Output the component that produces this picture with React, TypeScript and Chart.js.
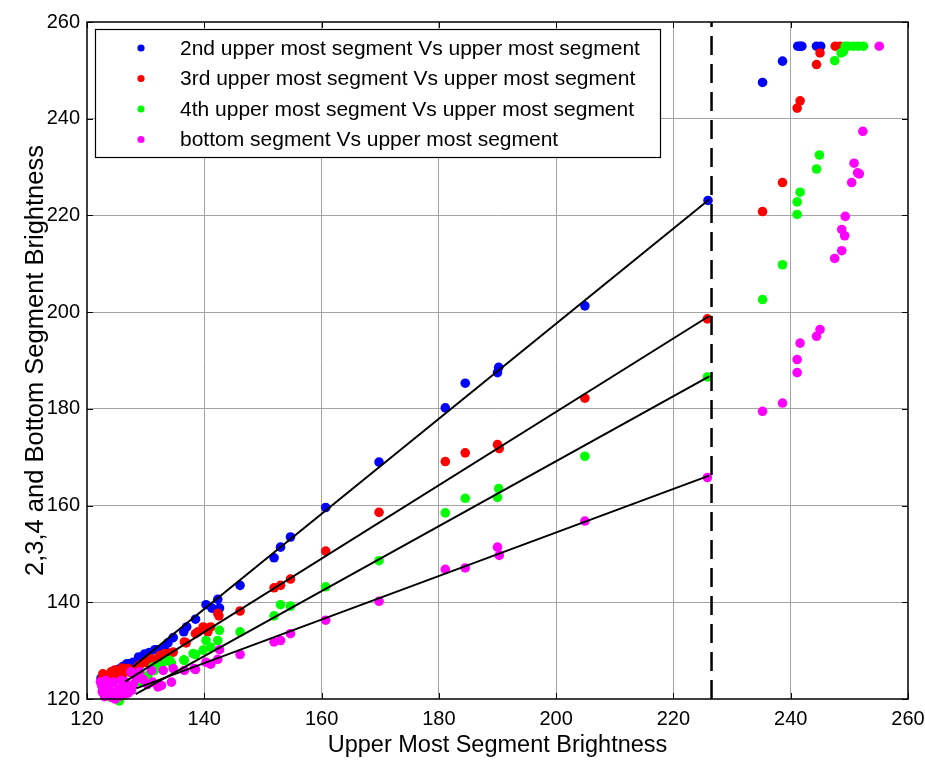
import { useEffect, useRef } from 'react';
import { Chart, registerables } from 'chart.js';

Chart.register(...registerables);

const FONT = '"Liberation Sans", Arial, Helvetica, sans-serif';

// Axis ticks
const xTicks = [120, 140, 160, 180, 200, 220, 240, 260];
const yTicks = [120, 140, 160, 180, 200, 220, 240, 260];

// Legend labels and colors
const seriesLabels = [
  '2nd upper most segment Vs upper most segment',
  '3rd upper most segment Vs upper most segment',
  '4th upper most segment Vs upper most segment',
  'bottom segment Vs upper most segment',
];
const seriesColors = ['#0000ff', '#ff0000', '#00ff00', '#ff00ff'];

// 2nd upper most segment (blue)
const blueX = [122.4, 123.2, 123.5, 124.7, 125.5, 126.1, 126.8, 127.3, 127.9, 128.8, 129.2, 129.8, 130.6, 131.6, 131.8, 132.6, 133.2, 133.8, 134.7, 136.5, 137.0, 138.5, 140.3, 141.3, 142.3, 142.6, 146.1, 151.9, 153.0, 154.7, 160.7, 169.8, 181.1, 184.5, 190.0, 190.2, 204.9, 225.9, 235.2, 238.6, 241.2, 241.6, 241.9, 244.4, 245.1];
const blueY = [124.3, 123.8, 124.8, 125.9, 126.2, 126.7, 127.3, 127.3, 127.6, 128.7, 128.6, 129.3, 129.6, 130.2, 130.2, 130.2, 130.6, 131.6, 132.7, 133.9, 134.9, 136.5, 139.5, 138.8, 140.6, 138.8, 143.5, 149.2, 151.4, 153.5, 159.6, 169.0, 180.2, 185.3, 187.5, 188.6, 201.3, 223.1, 247.5, 251.9, 255, 255, 255, 255, 255];

// 3rd upper most segment (red)
const redX = [122.5, 122.7, 123.0, 123.3, 123.8, 124.1, 124.5, 124.8, 125.0, 125.5, 126.0, 126.2, 127.0, 127.4, 127.8, 128.2, 128.7, 129.0, 129.8, 130.1, 131.0, 132.1, 132.4, 133.2, 134.2, 134.7, 136.6, 136.9, 138.5, 138.9, 139.8, 140.3, 140.6, 141.1, 142.3, 142.5, 146.1, 151.9, 153.0, 154.7, 160.7, 169.8, 181.1, 184.5, 190.0, 190.3, 204.9, 225.8, 235.2, 238.6, 241.1, 241.6, 244.4, 245.0, 247.6, 248.4];
const redY = [124.0, 125.2, 123.6, 124.6, 124.9, 125.6, 123.8, 126.0, 124.9, 125.8, 126.4, 125.3, 126.3, 125.5, 125.8, 126.2, 126.7, 127.0, 127.6, 127.6, 128.3, 128.3, 129.0, 129.4, 129.5, 129.7, 131.8, 131.6, 133.5, 133.9, 134.9, 134.6, 133.9, 134.9, 137.7, 137.2, 138.2, 143.0, 143.5, 144.8, 150.6, 158.6, 169.1, 170.9, 172.6, 171.8, 182.2, 198.6, 220.8, 226.8, 242.2, 243.7, 251.2, 253.6, 255, 255];

// 4th upper most segment (green)
const greenX = [122.6, 123.2, 124.0, 125.5, 125.8, 126.4, 127.5, 129.0, 130.4, 131.2, 131.5, 132.1, 132.7, 133.5, 134.1, 134.4, 136.5, 136.6, 138.1, 138.5, 139.8, 140.3, 141.1, 142.3, 142.6, 146.1, 151.9, 153.0, 154.7, 160.7, 169.8, 181.1, 184.5, 190.0, 190.2, 204.9, 225.8, 235.2, 238.6, 241.1, 241.1, 241.6, 244.4, 244.9, 247.5, 248.6, 249.0, 249.3, 249.8, 250.7, 251.5, 252.4];
const greenY = [122.5, 121.0, 120.4, 119.6, 120.5, 120.8, 122.3, 123.6, 124.9, 126.6, 125.9, 127.0, 126.6, 128.0, 128.0, 127.4, 128.1, 128.0, 129.4, 129.2, 130.1, 132.1, 130.7, 132.1, 134.2, 133.9, 137.2, 139.5, 139.2, 143.2, 148.6, 158.5, 161.5, 161.7, 163.5, 170.2, 186.6, 202.6, 209.8, 220.2, 222.8, 224.8, 229.6, 232.5, 252.0, 253.6, 253.9, 255, 255, 255, 255, 255];

// bottom segment (magenta)
const magentaX = [122.3, 122.5, 122.6, 123.0, 123.2, 123.5, 123.8, 124.0, 124.3, 124.5, 124.8, 125.0, 125.3, 125.6, 125.8, 126.0, 126.2, 126.5, 126.8, 127.0, 127.5, 127.6, 127.9, 128.4, 129.0, 129.6, 130.3, 131.0, 131.2, 132.1, 132.7, 133.0, 134.4, 134.7, 136.6, 138.3, 138.5, 140.3, 141.1, 142.3, 142.6, 146.1, 151.9, 153.0, 154.7, 160.7, 169.8, 181.1, 184.5, 190.0, 190.3, 204.9, 225.8, 235.2, 238.6, 241.1, 241.1, 241.6, 244.4, 245.0, 247.5, 248.7, 249.2, 248.7, 249.3, 250.4, 251.4, 251.7, 250.8, 252.3, 255.1];
const magentaY = [123.5, 122.8, 121.5, 120.5, 123.8, 122.5, 122.0, 121.0, 120.3, 123.5, 120.0, 121.5, 122.0, 120.6, 123.8, 122.4, 121.0, 123.6, 122.6, 121.2, 125.6, 121.8, 123.0, 124.2, 125.6, 124.0, 123.0, 125.9, 123.5, 122.5, 122.8, 125.9, 123.5, 126.3, 125.9, 126.3, 126.1, 127.6, 127.2, 128.2, 130.2, 129.2, 131.8, 132.1, 133.5, 136.3, 140.2, 146.8, 147.1, 151.4, 149.7, 156.8, 165.8, 179.5, 181.2, 187.5, 190.2, 193.6, 195.0, 196.4, 211.1, 212.7, 215.8, 217.1, 219.8, 226.8, 228.8, 228.6, 230.8, 237.4, 255];

// Fitted lines (start / end)
const fitX = [
  [127.8, 226.1],
  [126.5, 226.1],
  [128.3, 226.1],
  [128.4, 226.1],
];
const fitY = [
  [126.6, 223.3],
  [123.6, 199.2],
  [121.0, 186.7],
  [122.2, 166.2],
];

// Vertical dashed threshold
const thresholdX = 226.5;
const thresholdY = [120, 260];

const pts = (xs: number[], ys: number[]) => xs.map((x, i) => ({ x, y: ys[i] }));

const boxPlugin = {
  id: 'matlabBox',
  afterDatasetsDraw(chart: any) {
    const { ctx, chartArea } = chart;
    const { left, right, top, bottom } = chartArea;
    const xs = chart.scales.x;
    const ys = chart.scales.y;
    const tl = 6;
    ctx.save();
    ctx.strokeStyle = '#000';
    ctx.lineWidth = 1;
    ctx.beginPath();
    xTicks.forEach((v) => {
      const p = Math.round(xs.getPixelForValue(v)) + 0.5;
      ctx.moveTo(p, bottom);
      ctx.lineTo(p, bottom - tl);
      ctx.moveTo(p, top);
      ctx.lineTo(p, top + tl);
    });
    yTicks.forEach((v) => {
      const p = Math.round(ys.getPixelForValue(v)) + 0.5;
      ctx.moveTo(left, p);
      ctx.lineTo(left + tl, p);
      ctx.moveTo(right, p);
      ctx.lineTo(right - tl, p);
    });
    ctx.stroke();
    ctx.lineWidth = 1.5;
    ctx.strokeRect(left, top, right - left, bottom - top);
    ctx.restore();
  },
};

const legendPlugin = {
  id: 'matlabLegend',
  afterDraw(chart: any) {
    const { ctx } = chart;
    const bx = 95, by = 29, bw = 565, bh = 128;
    ctx.save();
    ctx.fillStyle = '#fff';
    ctx.fillRect(bx, by, bw, bh);
    ctx.strokeStyle = '#000';
    ctx.lineWidth = 1.2;
    ctx.strokeRect(bx + 0.5, by + 0.5, bw, bh);
    ctx.font = `21px ${FONT}`;
    ctx.textBaseline = 'middle';
    ctx.textAlign = 'left';
    seriesLabels.forEach((label, i) => {
      const cy = 48 + i * 30.5;
      ctx.fillStyle = seriesColors[i];
      ctx.beginPath();
      ctx.arc(141, cy, 3.6, 0, Math.PI * 2);
      ctx.fill();
      ctx.fillStyle = '#000';
      ctx.fillText(label, 180, cy + 1);
    });
    ctx.restore();
  },
};

export default function App() {
  const ref = useRef<HTMLCanvasElement>(null);

  useEffect(() => {
    if (!ref.current) return;
    const scatterDs = (i: number, xs: number[], ys: number[]) => ({
      label: seriesLabels[i],
      data: pts(xs, ys),
      showLine: false,
      pointRadius: 4.8,
      pointHoverRadius: 4.8,
      pointBorderWidth: 0,
      pointBackgroundColor: seriesColors[i],
      borderColor: seriesColors[i],
      backgroundColor: seriesColors[i],
      order: 4 - i,
      clip: false as any,
    });
    const fitDs = fitX.map((xs, i) => ({
      label: 'fit' + i,
      data: pts(xs, fitY[i]),
      showLine: true,
      borderColor: '#000',
      borderWidth: 2,
      pointRadius: 0,
      order: 0,
    }));
    const chart = new Chart(ref.current, {
      type: 'scatter',
      data: {
        datasets: [
          scatterDs(0, blueX, blueY),
          scatterDs(1, redX, redY),
          scatterDs(2, greenX, greenY),
          scatterDs(3, magentaX, magentaY),
          ...fitDs,
          {
            label: 'threshold',
            data: thresholdY.map((y) => ({ x: thresholdX, y })),
            showLine: true,
            borderColor: '#000',
            borderWidth: 2.5,
            borderDash: [19, 9],
            pointRadius: 0,
            order: 0,
          },
        ] as any,
      },
      options: {
        responsive: false,
        animation: false,
        events: [],
        layout: { padding: { left: 0, right: 17, top: 22, bottom: 0 } },
        plugins: {
          legend: { display: false },
          tooltip: { enabled: false },
        },
        scales: {
          x: {
            type: 'linear',
            min: 120,
            max: 260,
            afterBuildTicks: (s: any) => {
              s.ticks = xTicks.map((v) => ({ value: v }));
            },
            ticks: {
              color: '#000',
              font: { family: FONT, size: 20 },
              padding: 8,
              maxRotation: 0,
            },
            grid: {
              color: (c: any) =>
                c.tick && (c.tick.value === 120 || c.tick.value === 260) ? 'rgba(0,0,0,0)' : '#a3a3a3',
              lineWidth: 1,
              drawTicks: false,
            },
            border: { display: false },
            title: {
              display: true,
              text: 'Upper Most Segment Brightness',
              color: '#000',
              font: { family: FONT, size: 23.5 },
              padding: { top: 0, bottom: 0 },
            },
            afterFit: (s: any) => {
              s.height = 61;
              s.paddingLeft = 0;
              s.paddingRight = 0;
            },
          } as any,
          y: {
            type: 'linear',
            min: 120,
            max: 260,
            afterBuildTicks: (s: any) => {
              s.ticks = yTicks.map((v) => ({ value: v }));
            },
            ticks: {
              color: '#000',
              font: { family: FONT, size: 20 },
              padding: 7,
            },
            grid: {
              color: (c: any) =>
                c.tick && (c.tick.value === 120 || c.tick.value === 260) ? 'rgba(0,0,0,0)' : '#a3a3a3',
              lineWidth: 1,
              drawTicks: false,
            },
            border: { display: false },
            title: {
              display: true,
              text: '2,3,4 and Bottom Segment Brightness',
              color: '#000',
              font: { family: FONT, size: 25.5 },
              padding: { top: 21, bottom: 0 },
            },
            afterFit: (s: any) => {
              s.width = 87;
              s.paddingTop = 0;
              s.paddingBottom = 0;
            },
          } as any,
        },
      },
      plugins: [boxPlugin, legendPlugin],
    });
    return () => chart.destroy();
  }, []);

  return (
    <div style={{ position: 'absolute', left: 0, top: 0, width: 925, height: 760, background: '#fff' }}>
      <canvas ref={ref} width={925} height={760} style={{ display: 'block' }} />
    </div>
  );
}
